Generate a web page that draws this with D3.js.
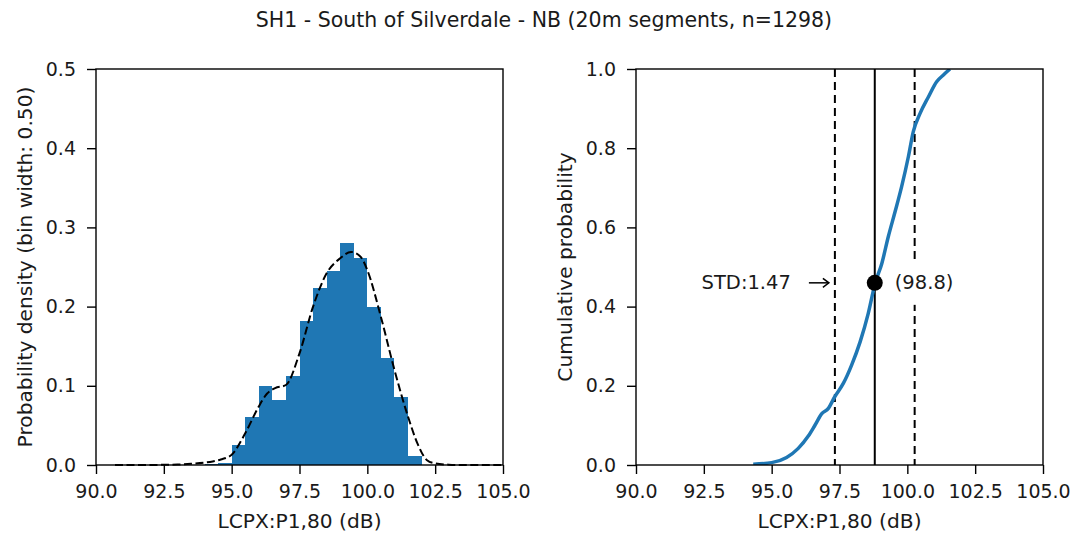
<!DOCTYPE html>
<html>
<head>
<meta charset="utf-8">
<script src="https://cdn.jsdelivr.net/npm/d3@7"></script>
<style>
  html, body { margin: 0; padding: 0; background: #fff; }
  text { font-family: "DejaVu Sans", sans-serif; fill: #1a1a1a; }
</style>
</head>
<body>
<svg id="chart" width="1078" height="536"></svg>
<script>
// ---------- data ----------
const titleText = "SH1 - South of Silverdale - NB (20m segments, n=1298)";
const xLabel = "LCPX:P1,80 (dB)";
const yLabelLeft = "Probability density (bin width: 0.50)";
const yLabelRight = "Cumulative probability";

const binStart = 94.0;
const binWidth = 0.5;
const binDensity = [0.0015, 0.0031, 0.025, 0.060, 0.100, 0.082, 0.112, 0.182,
                    0.224, 0.245, 0.280, 0.261, 0.200, 0.135, 0.086, 0.011];

const kdeX = [90.7, 91.5, 92.5, 93.0, 93.5, 94.0, 94.3, 94.6, 95.0, 95.5, 96.0, 96.3, 96.6, 97.0,
              97.5, 98.0, 98.5, 99.0, 99.4, 99.75, 100.0, 100.5, 101.0, 101.5, 101.85, 102.2,
              102.5, 103.0, 103.5, 104.5, 105.0];
const kdeY = [0, 0, 0.0002, 0.0006, 0.0015, 0.003, 0.0045, 0.007, 0.013, 0.040, 0.074, 0.090, 0.097, 0.101,
              0.141, 0.200, 0.242, 0.261, 0.269, 0.263, 0.246, 0.187, 0.120, 0.061, 0.027, 0.006,
              0.002, 0.0004, 0, 0, 0];

const cdfX = [94.32, 95.0, 95.55, 95.98, 96.35, 96.60, 96.84, 97.09, 97.33, 97.64, 97.95, 98.26,
              98.56, 98.81, 99.06, 99.30, 99.55, 99.79, 100.04, 100.22, 100.47, 100.78, 101.08,
              101.33, 101.57];
const cdfP = [0.002, 0.006, 0.019, 0.042, 0.073, 0.101, 0.129, 0.143, 0.173, 0.206, 0.253, 0.311,
              0.383, 0.458, 0.509, 0.577, 0.640, 0.703, 0.779, 0.842, 0.888, 0.930, 0.968,
              0.985, 1.0];

const median = 98.8;
const medianP = 0.46;
const stdDev = 1.47;
const medianLabel = "(98.8)";
const stdLabel = "STD:1.47";

const xTicks = [90.0, 92.5, 95.0, 97.5, 100.0, 102.5, 105.0];
const yTicksLeft = [0.0, 0.1, 0.2, 0.3, 0.4, 0.5];
const yTicksRight = [0.0, 0.2, 0.4, 0.6, 0.8, 1.0];

// ---------- layout ----------
const svg = d3.select("#chart");
const plotTop = 69, plotBottom = 465;
const panels = [{ left: 96, right: 503 }, { left: 636, right: 1043 }];
const FS_TITLE = 20.5, FS_LABEL = 20.2, FS_TICK = 19, FS_ANN = 19.5;
const BLUE = "#1f77b4";

svg.append("text").attr("x", 544).attr("y", 26.5).attr("text-anchor", "middle")
   .style("font-size", FS_TITLE + "px").text(titleText);

function drawAxes(g, x, y, yTicks, yFmt, ylab, ylabX) {
  const xa = g.append("g").attr("transform", `translate(0,${plotBottom})`)
    .call(d3.axisBottom(x).tickValues(xTicks).tickFormat(d3.format(".1f")).tickSizeOuter(0).tickSize(9).tickPadding(11));
  const ya = g.append("g").attr("transform", `translate(${x.range()[0]},0)`)
    .call(d3.axisLeft(y).tickValues(yTicks).tickFormat(yFmt).tickSizeOuter(0).tickSize(9).tickPadding(11));
  [xa, ya].forEach(a => {
    a.select(".domain").remove();
    a.selectAll("line").attr("stroke", "#000").attr("stroke-width", 1.4);
    a.selectAll("text").style("font-size", FS_TICK + "px").style("font-family", "DejaVu Sans").attr("fill", "#1a1a1a");
  });
  g.append("rect").attr("x", x.range()[0]).attr("y", plotTop)
    .attr("width", x.range()[1] - x.range()[0]).attr("height", plotBottom - plotTop)
    .attr("fill", "none").attr("stroke", "#000").attr("stroke-width", 1.4);
  const cx = (x.range()[0] + x.range()[1]) / 2;
  g.append("text").attr("x", cx).attr("y", 528).attr("text-anchor", "middle")
    .style("font-size", FS_LABEL + "px").text(xLabel);
  g.append("text").attr("transform", `translate(${ylabX},${(plotTop + plotBottom) / 2}) rotate(-90)`)
    .attr("text-anchor", "middle")
    .style("font-size", FS_LABEL + "px").text(ylab);
}

// ---------- left: histogram ----------
{
  const p = panels[0];
  const x = d3.scaleLinear().domain([90, 105]).range([p.left, p.right]);
  const y = d3.scaleLinear().domain([0, 0.5]).range([plotBottom, plotTop]);
  const g = svg.append("g");
  const bins = binDensity.map((d, i) => ({ x0: binStart + i * binWidth, x1: binStart + (i + 1) * binWidth, v: d }));
  g.selectAll("rect.bar").data(bins).join("rect").attr("class", "bar")
    .attr("x", d => x(d.x0)).attr("width", d => x(d.x1) - x(d.x0))
    .attr("y", d => y(d.v)).attr("height", d => y(0) - y(d.v))
    .attr("fill", BLUE).attr("shape-rendering", "crispEdges");
  const line = d3.line().x(d => x(d[0])).y(d => y(d[1])).curve(d3.curveMonotoneX);
  g.append("path").datum(kdeX.map((v, i) => [v, kdeY[i]]))
    .attr("d", line).attr("fill", "none").attr("stroke", "#000").attr("stroke-width", 2)
    .attr("stroke-dasharray", "8,3.5");
  drawAxes(g, x, y, yTicksLeft, d3.format(".1f"), yLabelLeft, 32);
}

// ---------- right: CDF ----------
{
  const p = panels[1];
  const x = d3.scaleLinear().domain([90, 105]).range([p.left, p.right]);
  const y = d3.scaleLinear().domain([0, 1]).range([plotBottom, plotTop]);
  const g = svg.append("g");
  const clipId = "clipR";
  svg.append("clipPath").attr("id", clipId).append("rect")
    .attr("x", p.left).attr("y", plotTop).attr("width", p.right - p.left).attr("height", plotBottom - plotTop);
  const gc = g.append("g").attr("clip-path", `url(#${clipId})`);

  [median - stdDev, median + stdDev].forEach(v => {
    gc.append("line").attr("x1", x(v)).attr("x2", x(v)).attr("y1", plotTop).attr("y2", plotBottom)
      .attr("stroke", "#000").attr("stroke-width", 2).attr("stroke-dasharray", "8,5");
  });
  gc.append("line").attr("x1", x(median)).attr("x2", x(median)).attr("y1", plotTop).attr("y2", plotBottom)
    .attr("stroke", "#000").attr("stroke-width", 2);

  const line = d3.line().x(d => x(d[0])).y(d => y(d[1])).curve(d3.curveMonotoneX);
  gc.append("path").datum(cdfX.map((v, i) => [v, cdfP[i]]))
    .attr("d", line).attr("fill", "none").attr("stroke", BLUE).attr("stroke-width", 3.5)
    .attr("stroke-linejoin", "round");

  const ly = y(medianP);
  const lbl = g.append("text").attr("x", x(median) + 20).attr("y", ly + 6.5)
    .style("font-size", FS_ANN + "px").text(medianLabel);
  const bb = lbl.node().getBBox();
  g.insert("rect", "text").attr("x", bb.x - 4).attr("y", ly - 21).attr("width", bb.width + 8).attr("height", 43)
    .attr("fill", "#fff");
  lbl.raise();

  g.append("circle").attr("cx", x(median)).attr("cy", ly).attr("r", 8).attr("fill", "#000");

  const ax1 = x(median - stdDev) - 6, ax0 = ax1 - 20;
  g.append("text").attr("x", ax0 - 18).attr("y", ly + 6.5).attr("text-anchor", "end")
    .style("font-size", FS_ANN + "px").text(stdLabel);
  g.append("line").attr("x1", ax0).attr("x2", ax1).attr("y1", ly).attr("y2", ly)
    .attr("stroke", "#000").attr("stroke-width", 1.5);
  g.append("path").attr("d", `M${ax1 - 6},${ly - 4.5} L${ax1},${ly} L${ax1 - 6},${ly + 4.5}`)
    .attr("fill", "none").attr("stroke", "#000").attr("stroke-width", 1.5);

  drawAxes(g, x, y, yTicksRight, d3.format(".1f"), yLabelRight, 572);
}
</script>
</body>
</html>
